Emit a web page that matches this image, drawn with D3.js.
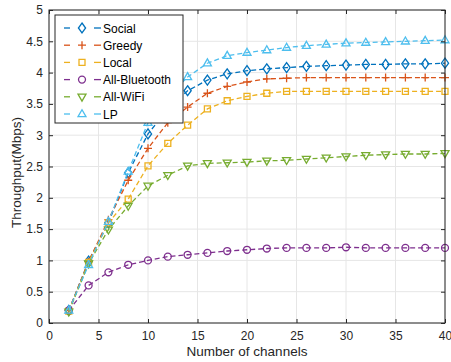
<!DOCTYPE html>
<html>
<head>
<meta charset="utf-8">
<script src="https://cdn.jsdelivr.net/npm/d3@7"></script>
<style>
  body { margin: 0; background: #fff; }
  svg { font-family: "Liberation Sans", Arial, sans-serif; }
</style>
</head>
<body>
<svg id="chart" width="451" height="362"></svg>
<script>
// Data
const channels = [2, 4, 6, 8, 10, 12, 14, 16, 18, 20, 22, 24, 26, 28, 30, 32, 34, 36, 38, 40];
const social    = [0.20, 0.99, 1.60, 2.40, 3.02, 3.42, 3.71, 3.88, 3.98, 4.03, 4.06, 4.08, 4.10, 4.11, 4.12, 4.13, 4.13, 4.14, 4.14, 4.15];
const greedy    = [0.20, 0.98, 1.65, 2.28, 2.79, 3.20, 3.45, 3.67, 3.78, 3.85, 3.90, 3.91, 3.92, 3.92, 3.92, 3.92, 3.92, 3.92, 3.92, 3.92];
const local     = [0.19, 0.97, 1.60, 1.98, 2.51, 2.87, 3.16, 3.42, 3.55, 3.62, 3.67, 3.70, 3.70, 3.70, 3.70, 3.70, 3.70, 3.70, 3.70, 3.70];
const bluetooth = [0.20, 0.60, 0.81, 0.93, 1.00, 1.06, 1.09, 1.12, 1.15, 1.17, 1.19, 1.20, 1.20, 1.20, 1.21, 1.20, 1.20, 1.20, 1.20, 1.20];
const wifi      = [0.18, 0.95, 1.49, 1.87, 2.19, 2.36, 2.51, 2.55, 2.56, 2.57, 2.59, 2.60, 2.62, 2.64, 2.66, 2.68, 2.69, 2.70, 2.70, 2.71];
const lp        = [0.20, 0.93, 1.62, 2.42, 3.20, 3.62, 3.93, 4.15, 4.27, 4.32, 4.36, 4.40, 4.43, 4.45, 4.47, 4.48, 4.49, 4.50, 4.51, 4.52];

const seriesNames = ['Social', 'Greedy', 'Local', 'All-Bluetooth', 'All-WiFi', 'LP'];
const seriesValues = [social, greedy, local, bluetooth, wifi, lp];
const seriesColors = ['#0072BD', '#D95319', '#EDB120', '#7E2F8E', '#77AC30', '#4DBEEE'];
const seriesMarkers = ['diamond', 'plus', 'square', 'circle', 'triDown', 'triUp'];

const xTicks = [0, 5, 10, 15, 20, 25, 30, 35, 40];
const yTicks = [0, 0.5, 1, 1.5, 2, 2.5, 3, 3.5, 4, 4.5, 5];

const margin = { left: 49, right: 6, top: 10, bottom: 39 };
const width = 451, height = 362;
const svg = d3.select('#chart');

const x = d3.scaleLinear().domain([0, 40]).range([margin.left, width - margin.right]);
const y = d3.scaleLinear().domain([0, 5]).range([height - margin.bottom, margin.top]);

const axisColor = '#262626';

// Grid
const grid = svg.append('g').attr('stroke', '#e6e6e6').attr('stroke-width', 1);
grid.selectAll('.gx').data(xTicks).join('line')
    .attr('x1', d => x(d)).attr('x2', d => x(d))
    .attr('y1', y(0)).attr('y2', y(5));
grid.selectAll('.gy').data(yTicks).join('line')
    .attr('x1', x(0)).attr('x2', x(40))
    .attr('y1', d => y(d)).attr('y2', d => y(d));

// Marker shapes (MATLAB-like)
function markerPath(type) {
    switch (type) {
        case 'diamond': return 'M0,-5L3.6,0L0,5L-3.6,0Z';
        case 'plus': return 'M-4,0H4M0,-4V4';
        case 'square': return 'M-3,-3H3V3H-3Z';
        case 'circle': return d3.symbol(d3.symbolCircle, 38)();
        case 'triDown': return 'M-4,-2.7L4,-2.7L0,4.3Z';
        case 'triUp': return 'M-4,2.7L4,2.7L0,-4.3Z';
    }
}

const line = d3.line().x(d => x(d[0])).y(d => y(d[1]));

// Series
seriesValues.forEach((vals, i) => {
    const pts = channels.map((c, j) => [c, vals[j]]);
    const g = svg.append('g');
    g.append('path')
        .datum(pts)
        .attr('d', line)
        .attr('fill', 'none')
        .attr('stroke', seriesColors[i])
        .attr('stroke-width', 1.3)
        .attr('stroke-dasharray', '5,3');
    g.selectAll('path.m').data(pts).join('path')
        .attr('class', 'm')
        .attr('transform', d => `translate(${x(d[0])},${y(d[1])})`)
        .attr('d', markerPath(seriesMarkers[i]))
        .attr('fill', 'none')
        .attr('stroke', seriesColors[i])
        .attr('stroke-width', 1.3);
});

// Axes
const xAxis = d3.axisBottom(x).tickValues(xTicks).tickSize(-4).tickPadding(8).tickFormat(d3.format('d'));
const yAxis = d3.axisLeft(y).tickValues(yTicks).tickSize(-4).tickPadding(6).tickFormat(d => d);
const xTop = d3.axisTop(x).tickValues(xTicks).tickSize(-4).tickFormat('');
const yRight = d3.axisRight(y).tickValues(yTicks).tickSize(-4).tickFormat('');

function styleAxis(g) {
    g.select('.domain').attr('stroke', axisColor);
    g.selectAll('.tick line').attr('stroke', axisColor);
    g.selectAll('.tick text').attr('fill', axisColor).style('font-size', '12px');
}

svg.append('g').attr('transform', `translate(0,${y(0)})`).call(xAxis).call(styleAxis);
svg.append('g').attr('transform', `translate(${x(0)},0)`).call(yAxis).call(styleAxis);
svg.append('g').attr('transform', `translate(0,${y(5)})`).call(xTop).call(styleAxis);
svg.append('g').attr('transform', `translate(${x(40)},0)`).call(yRight).call(styleAxis);
svg.selectAll('.domain').attr('d', null);
svg.append('rect')
    .attr('x', x(0)).attr('y', y(5))
    .attr('width', x(40) - x(0)).attr('height', y(0) - y(5))
    .attr('fill', 'none').attr('stroke', axisColor).attr('stroke-width', 1);

// Axis labels
svg.append('text')
    .attr('x', (x(0) + x(40)) / 2).attr('y', 356)
    .attr('text-anchor', 'middle')
    .attr('fill', axisColor)
    .style('font-size', '13.5px')
    .text('Number of channels');
svg.append('text')
    .attr('transform', `translate(21,${(y(0) + y(5)) / 2 + 6}) rotate(-90)`)
    .attr('text-anchor', 'middle')
    .attr('fill', axisColor)
    .style('font-size', '13.5px')
    .text('Throughput(Mbps)');

// Legend
const legend = svg.append('g').attr('transform', 'translate(55,15)');
legend.append('rect')
    .attr('width', 128).attr('height', 108)
    .attr('fill', '#fff').attr('stroke', axisColor).attr('stroke-width', 1);
seriesNames.forEach((name, i) => {
    const row = legend.append('g').attr('transform', `translate(0,${13 + i * 17.2})`);
    [[9, 15], [39, 46]].forEach(([a, b]) => {
        row.append('line')
            .attr('x1', a).attr('x2', b).attr('y1', 0).attr('y2', 0)
            .attr('stroke', seriesColors[i]).attr('stroke-width', 1.3);
    });
    row.append('path')
        .attr('transform', 'translate(27,0)')
        .attr('d', markerPath(seriesMarkers[i]))
        .attr('fill', 'none')
        .attr('stroke', seriesColors[i])
        .attr('stroke-width', 1.3);
    row.append('text')
        .attr('x', 48).attr('y', 4.5)
        .attr('fill', '#000')
        .style('font-size', '12px')
        .text(name);
});
</script>
</body>
</html>
